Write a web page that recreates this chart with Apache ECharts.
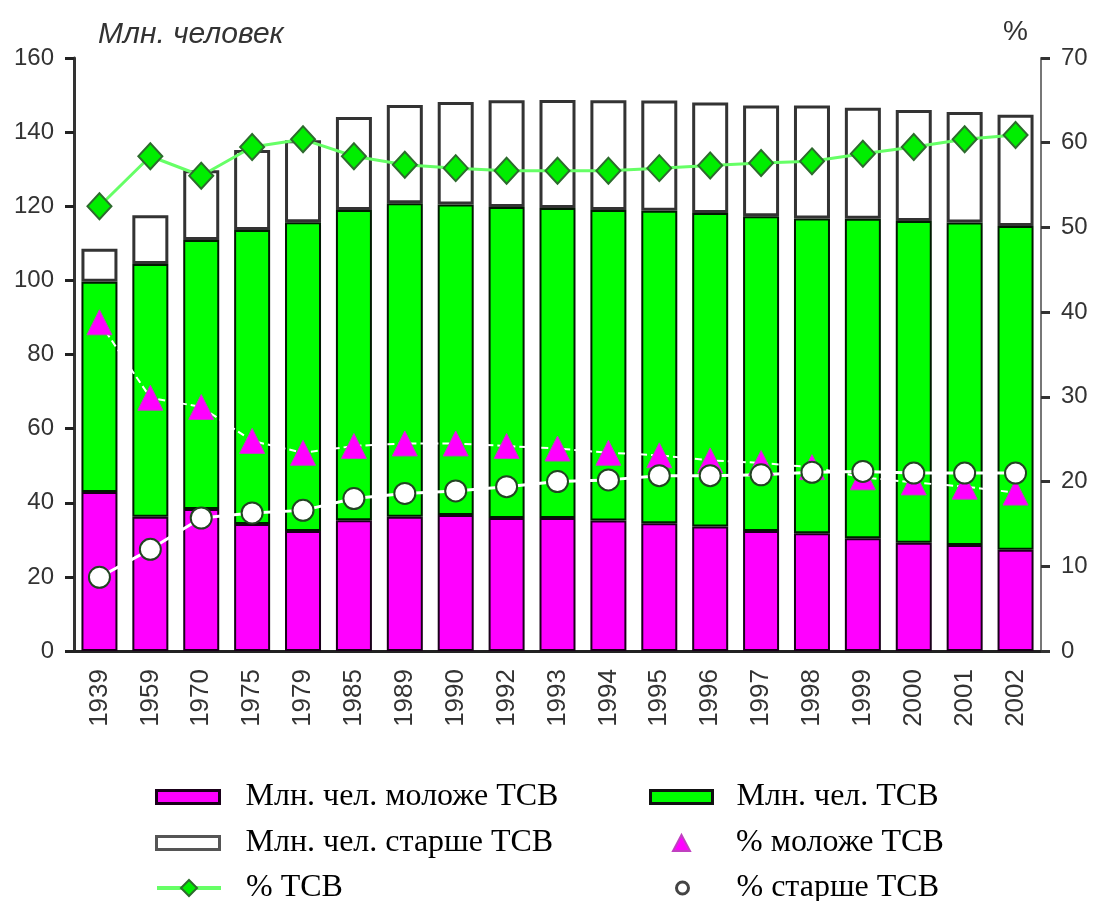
<!DOCTYPE html>
<html>
<head>
<meta charset="utf-8">
<script src="https://cdn.jsdelivr.net/npm/echarts@6/dist/echarts.min.js"></script>
<style>html,body{margin:0;padding:0;background:#fff}#c{width:1093px;height:901px}</style>
</head>
<body>
<div id="c"></div>
<script>
var years = ['1939','1959','1970','1975','1979','1985','1989','1990','1992','1993','1994','1995','1996','1997','1998','1999','2000','2001','2002'];
// Млн. человек
var youngMln = [42.9, 36.2, 38.3, 34.3, 32.4, 35.3, 36.2, 36.7, 35.9, 35.9, 35.2, 34.5, 33.6, 32.4, 31.8, 30.4, 29.2, 28.6, 27.3];
var workMln  = [56.7, 68.2, 72.6, 79.3, 83.3, 83.7, 84.6, 83.8, 83.9, 83.6, 83.8, 84.3, 84.6, 84.9, 84.9, 86.2, 86.8, 87.0, 87.4];
var oldMln   = [8.9, 13.2, 18.8, 21.6, 22.1, 25.1, 26.5, 27.6, 28.8, 29.2, 29.6, 29.7, 29.8, 29.9, 30.5, 30.0, 30.0, 29.8, 30.0];
// %
var pctWork  = [52.5, 58.4, 56.1, 59.5, 60.4, 58.4, 57.4, 57.0, 56.7, 56.7, 56.7, 57.0, 57.3, 57.6, 57.8, 58.7, 59.5, 60.4, 60.9];
var pctYoung = [38.8, 29.9, 28.8, 24.8, 23.4, 24.2, 24.5, 24.5, 24.2, 23.9, 23.4, 23.1, 22.5, 22.2, 21.7, 20.5, 19.9, 19.4, 18.7];
var pctOld   = [8.7, 12.0, 15.7, 16.3, 16.6, 18.0, 18.6, 18.9, 19.4, 20.0, 20.2, 20.7, 20.7, 20.8, 21.1, 21.2, 21.0, 21.0, 21.0];
var leftTicks = [0, 160, 20];
var rightTicks = [0, 70, 10];

var names = ['Млн. чел. моложе ТСВ','Млн. чел. ТСВ','Млн. чел. старше ТСВ','% моложе ТСВ','% ТСВ','% старше ТСВ'];

var chart = echarts.init(document.getElementById('c'));
var axisFont = {fontFamily: 'Liberation Sans, Arial, sans-serif', fontSize: 24, color: '#333'};
var legText = {fontFamily: 'Liberation Serif, Times New Roman, serif', fontSize: 32, color: '#000'};
function leg(name, left, top, w, h, pad, icon, extra) {
  var d = icon ? {name: name, icon: icon} : name;
  return Object.assign({left: left, top: top, padding: 0, itemWidth: w, itemHeight: h, selectedMode: false,
          data: [d], textStyle: Object.assign({padding: [0,0,0,pad]}, legText)}, extra || {});
}
chart.setOption({
  animation: false,
  backgroundColor: '#fff',
  title: [
    {text: 'Млн. человек', left: 93, top: 15, textStyle: {fontFamily: 'Liberation Sans, Arial, sans-serif', fontStyle: 'italic', fontWeight: 'normal', fontSize: 30, color: '#333'}},
    {text: '%', left: 998, top: 13, textStyle: {fontFamily: 'Liberation Sans, Arial, sans-serif', fontWeight: 'normal', fontSize: 28, color: '#333'}}
  ],
  grid: {left: 74, right: 52, top: 58, bottom: 250, containLabel: false},
  legend: [
    leg(names[0], 155, 781, 63, 13, 21, 'rect', {itemStyle: {borderWidth: 3, borderColor: '#1a001a'}}),
    leg(names[1], 649, 781, 62, 13, 19, 'rect', {itemStyle: {borderWidth: 3, borderColor: '#111'}}),
    leg(names[2], 155, 827, 63, 13, 21, 'rect', {itemStyle: {borderWidth: 3, borderColor: '#555'}}),
    leg(names[3], 672, 827, 17, 16, 41, 'triangle'),
    leg(names[4], 155, 872, 64, 20, 20, null, {lineStyle: {width: 4, color: '#66ff66'}}),
    leg(names[5], 675, 872, 12, 12, 43, 'circle', {itemStyle: {borderWidth: 3, borderColor: '#444'}})
  ],
  xAxis: [
    {type: 'category', data: years, position: 'bottom',
     axisLine: {lineStyle: {color: '#555', width: 3}},
     axisTick: {show: false},
     axisLabel: Object.assign({}, axisFont, {rotate: 90, margin: 18, interval: 0, fontSize: 26})},
    {type: 'category', data: years, position: 'top',
     axisLine: {lineStyle: {color: '#222', width: 3}},
     axisTick: {show: false}, axisLabel: {show: false}}
  ],
  yAxis: [
    {type: 'value', min: leftTicks[0], max: leftTicks[1], interval: leftTicks[2], position: 'left',
     axisLine: {show: true, lineStyle: {color: '#333', width: 3}},
     axisTick: {show: true, length: 9, lineStyle: {color: '#222', width: 3}},
     axisLabel: Object.assign({margin: 20}, axisFont),
     splitLine: {show: false}},
    {type: 'value', min: rightTicks[0], max: rightTicks[1], interval: rightTicks[2], position: 'right',
     axisLine: {show: true, lineStyle: {color: '#777', width: 2}},
     axisTick: {show: true, length: 9, lineStyle: {color: '#333', width: 3}},
     axisLabel: Object.assign({margin: 20}, axisFont),
     splitLine: {show: false}}
  ],
  series: [
    {name: names[0], type: 'bar', stack: 'p', data: youngMln, barWidth: 36,
     itemStyle: {color: '#ff00ff', borderColor: '#1a001a', borderWidth: 2}},
    {name: names[1], type: 'bar', stack: 'p', data: workMln, barWidth: 36,
     itemStyle: {color: '#00ff00', borderColor: '#001a00', borderWidth: 2}},
    {name: names[2], type: 'bar', stack: 'p', data: oldMln, barWidth: 36,
     itemStyle: {color: '#ffffff', borderColor: '#333', borderWidth: 3}},
    {name: names[4], type: 'line', yAxisIndex: 1, data: pctWork,
     symbol: 'diamond', symbolSize: [24, 26],
     lineStyle: {color: '#66ff66', width: 3},
     itemStyle: {color: '#00ee00', borderColor: '#2d6b2d', borderWidth: 2}},
    {name: names[3], type: 'line', yAxisIndex: 1, data: pctYoung,
     symbol: 'triangle', symbolSize: [25, 25],
     lineStyle: {color: '#ffffff', width: 2, type: [7, 4]},
     itemStyle: {color: '#ff00ff', borderColor: '#c040c0', borderWidth: 1}},
    {name: names[5], type: 'line', yAxisIndex: 1, data: pctOld,
     symbol: 'circle', symbolSize: 21,
     lineStyle: {color: '#ffffff', width: 3},
     itemStyle: {color: '#ffffff', borderColor: '#224422', borderWidth: 2}}
  ]
});
</script>
</body>
</html>
